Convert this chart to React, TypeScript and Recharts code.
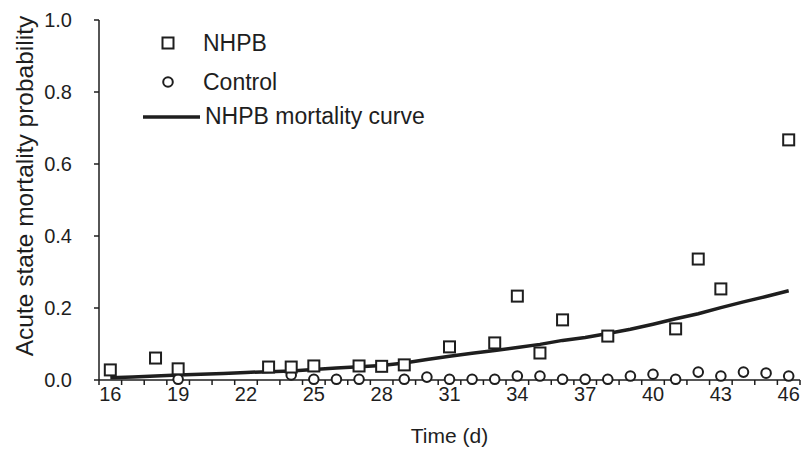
import React from "react"
import { ComposedChart, Scatter, Line, XAxis, YAxis, Legend } from "recharts"

// NHPB observed acute state mortality probability
const nhpbDays = [16, 18, 19, 23, 24, 25, 27, 28, 29, 31, 33, 34, 35, 36, 38, 41, 42, 43, 46]
const nhpbValues = [0.028, 0.061, 0.031, 0.036, 0.036, 0.039, 0.039, 0.038, 0.042, 0.092, 0.103, 0.233, 0.075, 0.167, 0.122, 0.142, 0.336, 0.253, 0.667]

// Control group
const controlDays = [19, 24, 25, 26, 27, 29, 30, 31, 32, 33, 34, 35, 36, 37, 38, 39, 40, 41, 42, 43, 44, 45, 46]
const controlValues = [0.002, 0.014, 0.002, 0.002, 0.002, 0.002, 0.008, 0.002, 0.002, 0.002, 0.011, 0.011, 0.002, 0.002, 0.002, 0.011, 0.016, 0.002, 0.022, 0.011, 0.022, 0.019, 0.011]

// fitted mortality curve
const curveDays = [16, 17, 18, 19, 20, 21, 22, 23, 24, 25, 26, 27, 28, 29, 30, 31, 32, 33, 34, 35, 36, 37, 38, 39, 40, 41, 42, 43, 44, 45, 46]
const curveValues = [0.006, 0.008, 0.011, 0.014, 0.016, 0.018, 0.021, 0.023, 0.025, 0.029, 0.033, 0.037, 0.040, 0.047, 0.057, 0.066, 0.074, 0.082, 0.090, 0.099, 0.110, 0.118, 0.129, 0.141, 0.155, 0.170, 0.184, 0.201, 0.217, 0.232, 0.248]

const xTickLabels = [16, 19, 22, 25, 28, 31, 34, 37, 40, 43, 46]
const yTicks = [0, 0.2, 0.4, 0.6, 0.8, 1.0]
const seriesNames = ["NHPB", "Control", "NHPB mortality curve"]

const INK = "#1e1e1e"
const FONT = "'Liberation Sans', Arial, sans-serif"

const nhpbData = nhpbDays.map((d, i) => ({ x: d, y: nhpbValues[i] }))
const controlData = controlDays.map((d, i) => ({ x: d, y: controlValues[i] }))
const curveData = curveDays.map((d, i) => ({ x: d, y: curveValues[i] }))

// minor tick marks sit between the days
const minorTicks = Array.from({ length: 32 }, (_, i) => 15.5 + i)
const allXTicks = [...minorTicks, ...xTickLabels].sort((a, b) => a - b)

const SquareDot = (props: any) => {
  const { cx, cy } = props
  if (cx == null || cy == null) return null
  return <rect x={cx - 5.5} y={cy - 5.5} width={11} height={11} fill="#fff" stroke={INK} strokeWidth={2} />
}

const CircleDot = (props: any) => {
  const { cx, cy } = props
  if (cx == null || cy == null) return null
  return <circle cx={cx} cy={cy} r={4.8} fill="#fff" stroke={INK} strokeWidth={2} />
}

const XTick = (props: any) => {
  const { x, y, payload } = props
  const v = payload.value
  if (xTickLabels.includes(v)) {
    return (
      <text x={x} y={y} dy="0.71em" textAnchor="middle" fill={INK} fontSize={20} fontFamily={FONT}>
        {v}
      </text>
    )
  }
  // tickSize 5 + tickMargin 2
  return <line x1={x} x2={x} y1={y - 7} y2={y - 2} stroke={INK} strokeWidth={1.5} />
}

const YLabel = (props: any) => {
  const vb = props.viewBox
  const cx = vb.x + 33
  const cy = vb.y + vb.height / 2 - 14
  return (
    <text
      x={cx}
      y={cy}
      transform={`rotate(-90 ${cx} ${cy})`}
      textAnchor="middle"
      fill={INK}
      fontSize={24.5}
      fontFamily={FONT}
    >
      Acute state mortality probability
    </text>
  )
}

const renderLegend = () => (
  <svg width={330} height={115}>
    <rect x={32.5} y={17.5} width={11} height={11} fill="#fff" stroke={INK} strokeWidth={2} />
    <text x={73} y={23} dominantBaseline="central" fill={INK} fontSize={23} fontFamily={FONT}>
      {seriesNames[0]}
    </text>
    <circle cx={38} cy={62} r={4.8} fill="#fff" stroke={INK} strokeWidth={2} />
    <text x={73} y={62} dominantBaseline="central" fill={INK} fontSize={23} fontFamily={FONT}>
      {seriesNames[1]}
    </text>
    <line x1={13} x2={70} y1={97} y2={97} stroke={INK} strokeWidth={3.5} />
    <text x={75} y={96} dominantBaseline="central" fill={INK} fontSize={23} fontFamily={FONT}>
      {seriesNames[2]}
    </text>
  </svg>
)

export default function App() {
  return (
    <div style={{ width: 811, height: 450, background: "#fff" }}>
      <style>{"body{margin:0}"}</style>
      <ComposedChart width={811} height={450} margin={{ top: 20, right: 11, left: 0, bottom: 0 }}>
        <XAxis
          dataKey="x"
          type="number"
          domain={[15.5, 46.5]}
          ticks={allXTicks}
          interval={0}
          tick={<XTick />}
          tickLine={false}
          tickSize={5}
          tickMargin={2}
          height={70}
          axisLine={{ stroke: INK, strokeWidth: 1.5 }}
          allowDataOverflow
          label={{ value: "Time (d)", position: "insideBottom", offset: 7, fill: INK, fontSize: 21, fontFamily: FONT }}
        />
        <YAxis
          dataKey="y"
          type="number"
          domain={[0, 1]}
          ticks={yTicks}
          interval={0}
          width={99}
          tickSize={5}
          tickMargin={22}
          tickFormatter={(v: number) => v.toFixed(1)}
          tick={{ fill: INK, fontSize: 20, fontFamily: FONT }}
          tickLine={{ stroke: INK, strokeWidth: 1.5 }}
          axisLine={{ stroke: INK, strokeWidth: 1.5 }}
          label={<YLabel />}
        />
        <Legend
          layout="vertical"
          align="center"
          verticalAlign="middle"
          content={renderLegend}
          wrapperStyle={{ left: 130, top: 20, width: 330, height: 115 }}
        />
        <Line
          data={curveData}
          dataKey="y"
          name={seriesNames[2]}
          type="linear"
          stroke={INK}
          strokeWidth={3.5}
          dot={false}
          activeDot={false}
          isAnimationActive={false}
        />
        <Scatter data={controlData} name={seriesNames[1]} shape={<CircleDot />} isAnimationActive={false} />
        <Scatter data={nhpbData} name={seriesNames[0]} shape={<SquareDot />} isAnimationActive={false} />
      </ComposedChart>
    </div>
  )
}
